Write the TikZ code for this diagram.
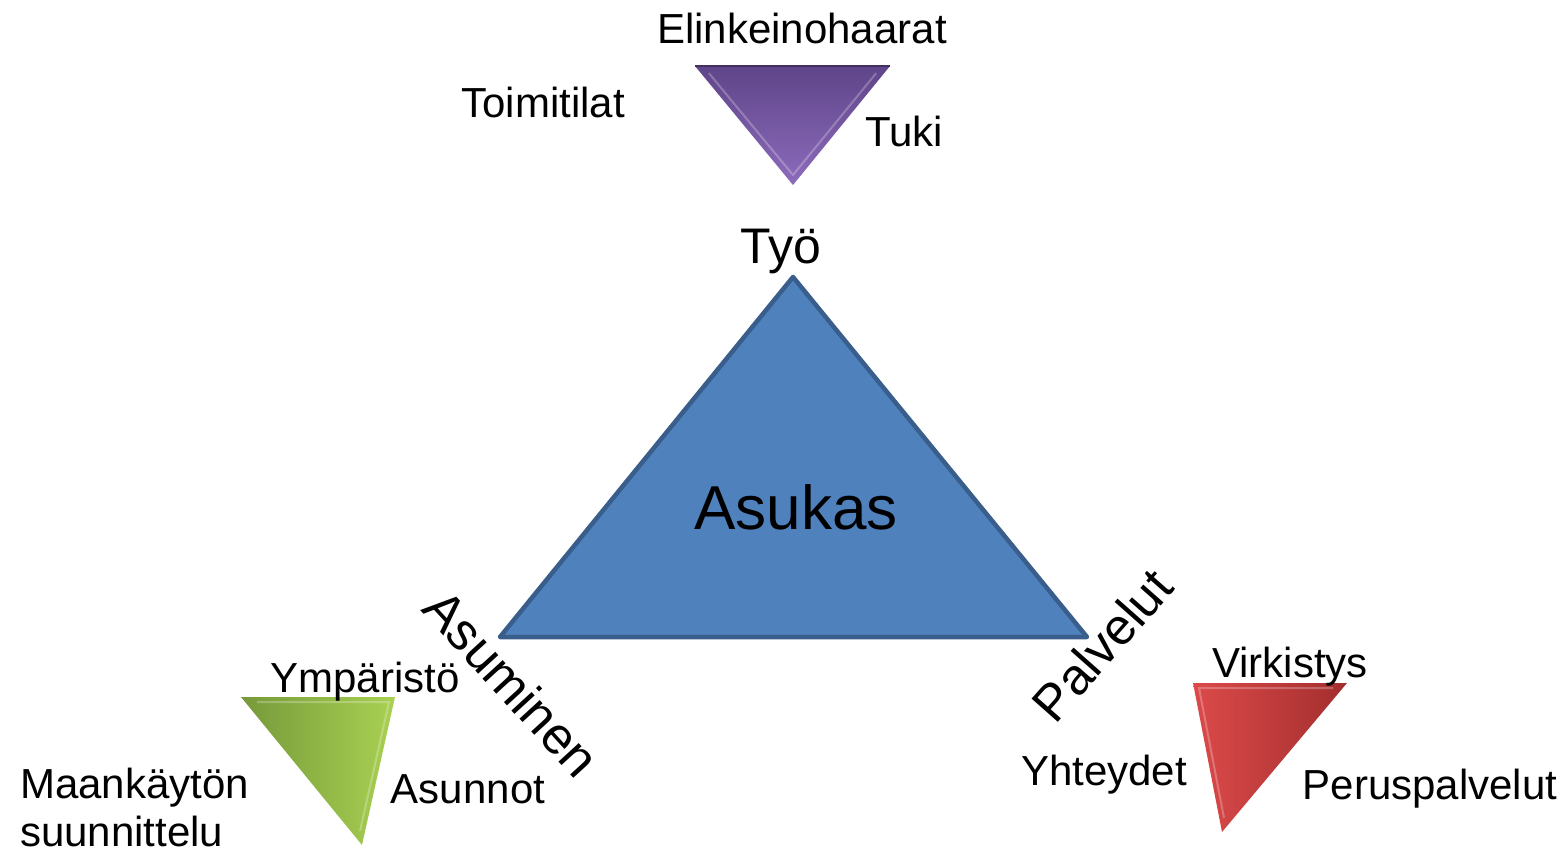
\documentclass[tikz,border=0pt]{standalone}
\usepackage{fontspec}
\setmainfont{Liberation Sans}
\usetikzlibrary{calc}
\definecolor{asublue}{HTML}{4F81BD}
\definecolor{asuedge}{HTML}{3A5E8C}
\definecolor{purpdark}{HTML}{5F4589}
\definecolor{purplight}{HTML}{8C6BBC}
\definecolor{greendark}{HTML}{76993A}
\definecolor{greenlight}{HTML}{A9D152}
\definecolor{redlight}{HTML}{DC4A4A}
\definecolor{reddark}{HTML}{A32E2E}
\tikzset{
  lbl/.style={font=\fontsize{42}{48}\selectfont, inner sep=0pt, anchor=base},
  big/.style={font=\fontsize{50}{56}\selectfont, inner sep=0pt},
  huge/.style={font=\fontsize{62}{70}\selectfont, inner sep=0pt, anchor=base},
  bevel/.style={white, opacity=0.25, line width=2pt},
}
\begin{document}
\begin{tikzpicture}[x=1pt,y=-1pt]
\useasboundingbox (0,0) rectangle (1567,848);

% main triangle
\coordinate (tA) at (793,277);
\coordinate (tB) at (500,637);
\coordinate (tC) at (1087,637);
\filldraw[fill=asublue, draw=asuedge, line width=4.5pt, line join=round] (tA) -- (tB) -- (tC) -- cycle;

% purple triangle
\coordinate (p1) at (695,66);
\coordinate (p2) at (890,66);
\coordinate (p3) at (793,185);
\shade[top color=purpdark, bottom color=purplight] (p1) -- (p2) -- (p3) -- cycle;
\draw[bevel] ($(p1)!0.06!(p3)+(8,0)$) -- ($(p3)+(0,-10)$) -- ($(p2)!0.06!(p3)+(-8,0)$);
\draw[purpdark!70!black, line width=1.5pt] (p1) -- (p2);

% green triangle
\coordinate (g1) at (241,697);
\coordinate (g2) at (395,697);
\coordinate (g3) at (362,845);
\shade[shading angle=135, left color=greendark, right color=greenlight] (g1) -- (g2) -- (g3) -- cycle;
\draw[bevel] ($(g1)+(16,5)$) -- ($(g2)+(-6,5)$) -- ($(g3)+(-2,-14)$);

% red triangle
\coordinate (r1) at (1193,683);
\coordinate (r2) at (1347,683);
\coordinate (r3) at (1222,832);
\shade[shading angle=45, left color=redlight, right color=reddark] (r1) -- (r2) -- (r3) -- cycle;
\draw[bevel] ($(r2)+(-14,5)$) -- ($(r1)+(6,5)$) -- ($(r3)+(2,-14)$);

% labels
\node[lbl] (elink) at (802,44) {Elinkeinohaarat};
\node[lbl] (toimi) at (543,118) {Toimitilat};
\node[lbl] (tuki) at (904,147) {Tuki};
\node[big, anchor=base] (tyo) at (781,263) {Työ};
\node[huge] (asukas) at (796,529) {Asukas};
\node[big, font=\fontsize{52}{58}\selectfont, rotate=-47.5] (asuminen) at (512,683) {Asuminen};
\node[big, font=\fontsize{51}{57}\selectfont, rotate=48.5] (palvelut) at (1102,645) {Palvelut};
\node[lbl] (ymp) at (365,692) {Ympäristö};
\node[font=\fontsize{42}{48}\selectfont, inner sep=0pt, anchor=north west, align=left] (maank) at (20,768) {Maankäytön\\suunnittelu};
\node[lbl] (asunnot) at (468,803) {Asunnot};
\node[lbl] (virk) at (1290,677) {Virkistys};
\node[lbl] (yht) at (1104,785) {Yhteydet};
\node[lbl] (perus) at (1430,799) {Peruspalvelut};
\end{tikzpicture}
\end{document}
